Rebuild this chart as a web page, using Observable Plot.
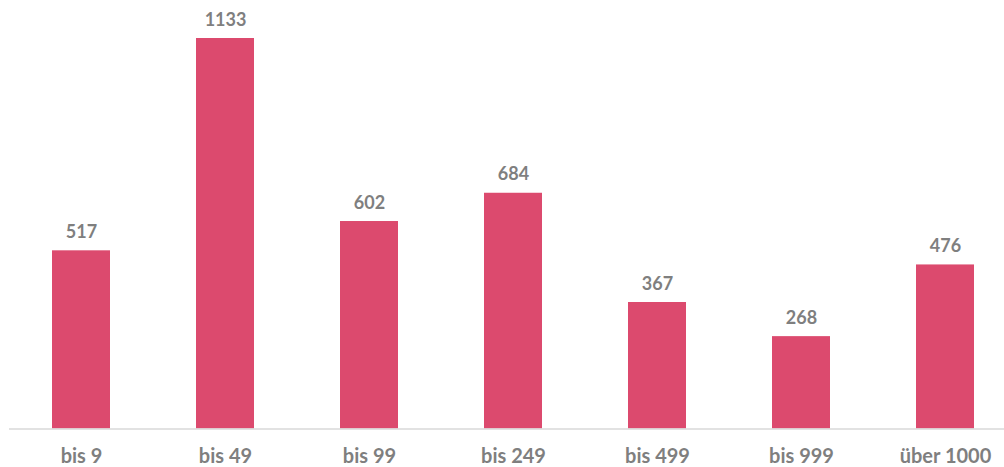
<!DOCTYPE html>
<html>
<head>
<meta charset="utf-8">
<script src="https://cdn.jsdelivr.net/npm/d3@7"></script>
<script src="https://cdn.jsdelivr.net/npm/@observablehq/plot@0.6"></script>
<style>
  html, body { margin: 0; padding: 0; background: #fff; }
  svg { display: block; }
</style>
</head>
<body>
<div id="chart"></div>
<script>
const categories = ["bis 9", "bis 49", "bis 99", "bis 249", "bis 499", "bis 999", "über 1000"];
const values = [517, 1133, 602, 684, 367, 268, 476];

const data = categories.map((c, i) => ({category: c, value: values[i]}));

const barColor = "#DC4A6E";
const textColor = "#7F7F7F";
const font = "Lato, 'Open Sans', sans-serif";

const chart = Plot.plot({
  width: 1004,
  height: 467,
  marginTop: 38,
  marginBottom: 38.5,
  marginLeft: 9,
  marginRight: -13,
  style: {fontFamily: font, background: "#fff"},
  x: {domain: categories, paddingInner: 0.596, paddingOuter: 0.298, label: null},
  y: {domain: [0, 1133], axis: null},
  marks: [
    Plot.barY(data, {x: "category", y: "value", fill: barColor}),
    Plot.ruleY([0], {stroke: "#D9D9D9", strokeWidth: 1.5}),
    Plot.text(data, {x: "category", y: "value", text: d => String(d.value), lineAnchor: "bottom", dy: -13, fill: textColor, fontSize: 18, fontWeight: "bold"}),
    Plot.axisX({tickSize: 0, tickPadding: 20, fontSize: 20, fontWeight: "bold", fill: textColor, label: null})
  ]
});
document.getElementById("chart").appendChild(chart);
</script>
</body>
</html>
